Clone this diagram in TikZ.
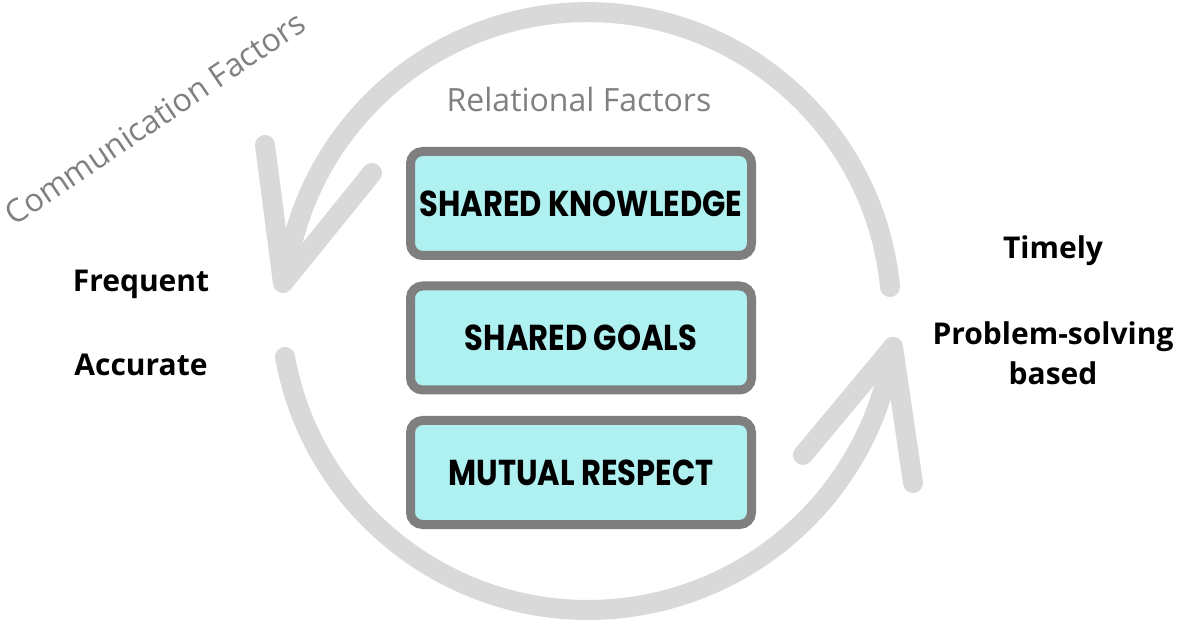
\documentclass[tikz,border=0pt]{standalone}
\usepackage{fontspec}
\setmainfont{Open Sans}
\newfontfamily\boxfont{Poppins}[FakeStretch=0.85]
\definecolor{cyclegray}{HTML}{D9D9D9}
\definecolor{boxgray}{HTML}{7F7F7F}
\definecolor{boxcyan}{HTML}{AFF0F0}
\definecolor{titlegray}{HTML}{808080}
\begin{document}
\begin{tikzpicture}[x=1pt, y=1pt,
    cycle/.style={line width=20pt, cyclegray, line cap=round, line join=round},
    factor/.style={draw=boxgray, fill=boxcyan, line width=9pt, rounded corners=12pt,
      minimum width=341pt, minimum height=104pt, inner sep=0pt,
      font=\boxfont\bfseries\fontsize{36}{40}\selectfont},
    side/.style={font=\bfseries\fontsize{30}{40}\selectfont, align=center},
    heading/.style={text=titlegray, font=\fontsize{32}{36}\selectfont}]
  \useasboundingbox (0,0) rectangle (1180,632);
  % the cycle
  \draw[cycle] (890,345) arc[start angle=5.5, end angle=173, radius=304];
  \draw[cycle] (285,275) arc[start angle=190.3, end angle=351.6, radius=308];
  \coordinate (toptip) at (283,349);
  \coordinate (bottip) at (893,285);
  \draw[cycle] (265,487) -- (toptip) -- (372,459);
  \draw[cycle] (803,177) -- (bottip) -- (913,149);
  % relational factors
  \node[factor] (knowledge) at (581,428.5) {SHARED KNOWLEDGE};
  \node[factor] (goals) at (581,294) {SHARED GOALS};
  \node[factor] (respect) at (581,159.5) {MUTUAL RESPECT};
  \node[heading] (relational) at (579,532) {Relational Factors};
  \node[heading, rotate=34] (communication) at (155,514) {Communication Factors};
  % communication qualities
  \node[side] (frequent) at (141,348) {Frequent};
  \node[side] (accurate) at (141,267) {Accurate};
  \node[side] (timely) at (1053,381) {Timely};
  \node[side] (problem) at (1053,279) {Problem-solving\\based};
\end{tikzpicture}
\end{document}
